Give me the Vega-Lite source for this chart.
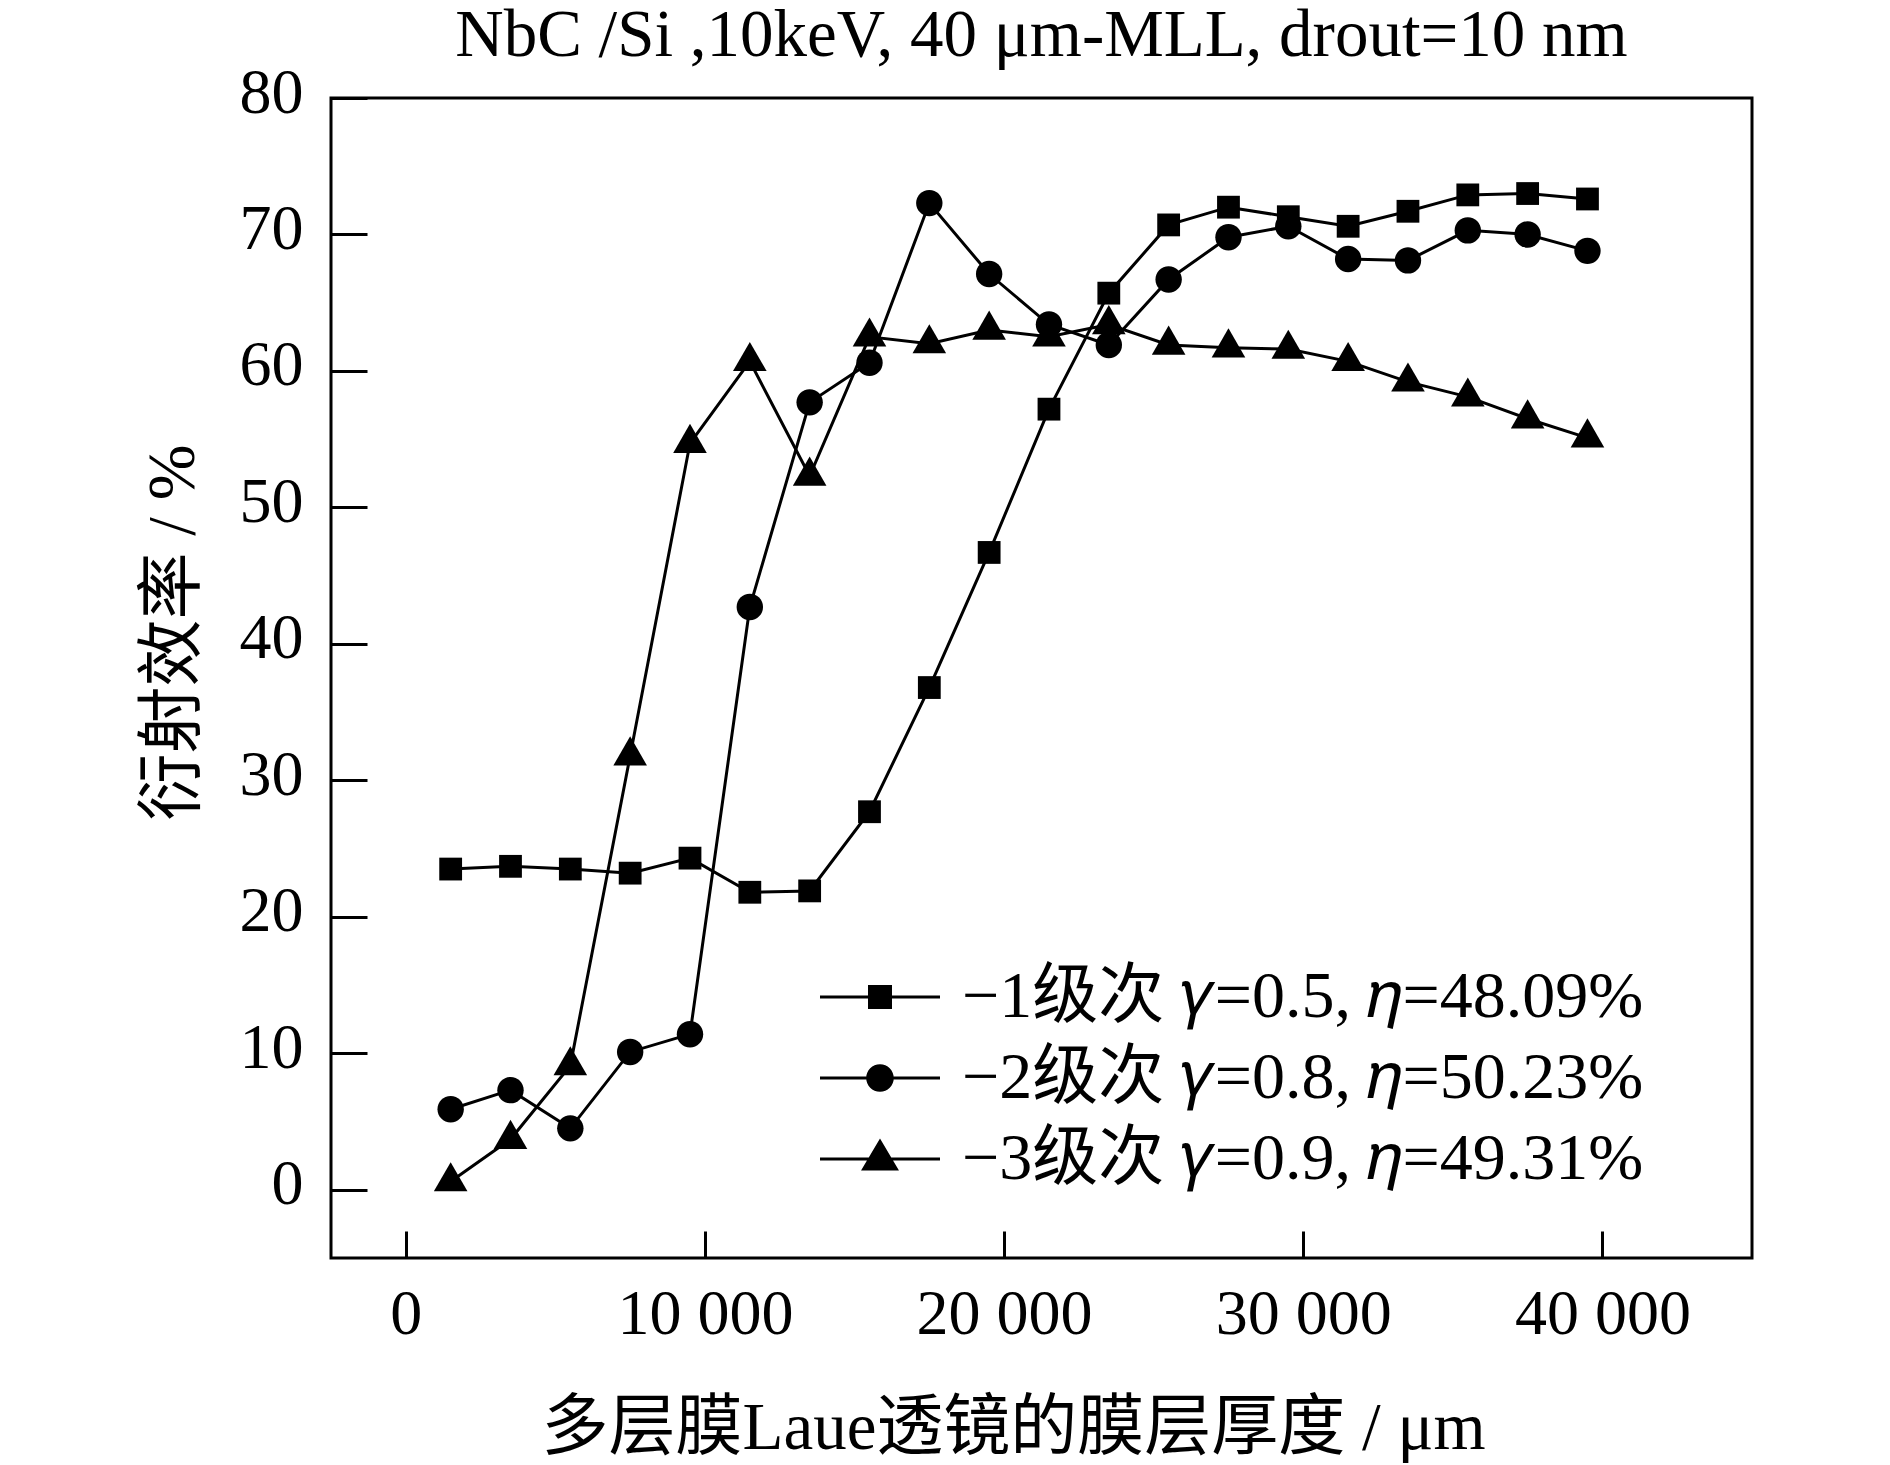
{
  "$schema": "https://vega.github.io/schema/vega-lite/v6.json",
  "description": "Diffraction efficiency of a NbC/Si multilayer Laue lens vs layer thickness, for the -1, -2 and -3 orders.",
  "width": 1421,
  "height": 1160,
  "autosize": {"type": "none"},
  "padding": {"left": 331, "top": 98, "right": 138, "bottom": 207},
  "background": "white",
  "title": {
    "text": "NbC /Si ,10keV, 40 μm-MLL, drout=10 nm",
    "font": "Liberation Serif",
    "fontSize": 67,
    "fontWeight": "normal",
    "color": "black",
    "anchor": "middle",
    "frame": "group",
    "baseline": "alphabetic",
    "offset": 0,
    "dy": 62
  },
  "data": {
    "values": [
      {"x": 1500, "y": 23.5, "s": "−1级次 𝛾=0.5, 𝜂=48.09%"},
      {"x": 3500, "y": 23.7, "s": "−1级次 𝛾=0.5, 𝜂=48.09%"},
      {"x": 5500, "y": 23.5, "s": "−1级次 𝛾=0.5, 𝜂=48.09%"},
      {"x": 7500, "y": 23.2, "s": "−1级次 𝛾=0.5, 𝜂=48.09%"},
      {"x": 9500, "y": 24.3, "s": "−1级次 𝛾=0.5, 𝜂=48.09%"},
      {"x": 11500, "y": 21.8, "s": "−1级次 𝛾=0.5, 𝜂=48.09%"},
      {"x": 13500, "y": 21.9, "s": "−1级次 𝛾=0.5, 𝜂=48.09%"},
      {"x": 15500, "y": 27.7, "s": "−1级次 𝛾=0.5, 𝜂=48.09%"},
      {"x": 17500, "y": 36.8, "s": "−1级次 𝛾=0.5, 𝜂=48.09%"},
      {"x": 19500, "y": 46.7, "s": "−1级次 𝛾=0.5, 𝜂=48.09%"},
      {"x": 21500, "y": 57.2, "s": "−1级次 𝛾=0.5, 𝜂=48.09%"},
      {"x": 23500, "y": 65.7, "s": "−1级次 𝛾=0.5, 𝜂=48.09%"},
      {"x": 25500, "y": 70.7, "s": "−1级次 𝛾=0.5, 𝜂=48.09%"},
      {"x": 27500, "y": 72.0, "s": "−1级次 𝛾=0.5, 𝜂=48.09%"},
      {"x": 29500, "y": 71.3, "s": "−1级次 𝛾=0.5, 𝜂=48.09%"},
      {"x": 31500, "y": 70.6, "s": "−1级次 𝛾=0.5, 𝜂=48.09%"},
      {"x": 33500, "y": 71.7, "s": "−1级次 𝛾=0.5, 𝜂=48.09%"},
      {"x": 35500, "y": 72.9, "s": "−1级次 𝛾=0.5, 𝜂=48.09%"},
      {"x": 37500, "y": 73.0, "s": "−1级次 𝛾=0.5, 𝜂=48.09%"},
      {"x": 39500, "y": 72.6, "s": "−1级次 𝛾=0.5, 𝜂=48.09%"},
      {"x": 1500, "y": 5.9, "s": "−2级次 𝛾=0.8, 𝜂=50.23%"},
      {"x": 3500, "y": 7.3, "s": "−2级次 𝛾=0.8, 𝜂=50.23%"},
      {"x": 5500, "y": 4.5, "s": "−2级次 𝛾=0.8, 𝜂=50.23%"},
      {"x": 7500, "y": 10.1, "s": "−2级次 𝛾=0.8, 𝜂=50.23%"},
      {"x": 9500, "y": 11.4, "s": "−2级次 𝛾=0.8, 𝜂=50.23%"},
      {"x": 11500, "y": 42.7, "s": "−2级次 𝛾=0.8, 𝜂=50.23%"},
      {"x": 13500, "y": 57.7, "s": "−2级次 𝛾=0.8, 𝜂=50.23%"},
      {"x": 15500, "y": 60.6, "s": "−2级次 𝛾=0.8, 𝜂=50.23%"},
      {"x": 17500, "y": 72.3, "s": "−2级次 𝛾=0.8, 𝜂=50.23%"},
      {"x": 19500, "y": 67.1, "s": "−2级次 𝛾=0.8, 𝜂=50.23%"},
      {"x": 21500, "y": 63.4, "s": "−2级次 𝛾=0.8, 𝜂=50.23%"},
      {"x": 23500, "y": 61.9, "s": "−2级次 𝛾=0.8, 𝜂=50.23%"},
      {"x": 25500, "y": 66.7, "s": "−2级次 𝛾=0.8, 𝜂=50.23%"},
      {"x": 27500, "y": 69.8, "s": "−2级次 𝛾=0.8, 𝜂=50.23%"},
      {"x": 29500, "y": 70.6, "s": "−2级次 𝛾=0.8, 𝜂=50.23%"},
      {"x": 31500, "y": 68.2, "s": "−2级次 𝛾=0.8, 𝜂=50.23%"},
      {"x": 33500, "y": 68.1, "s": "−2级次 𝛾=0.8, 𝜂=50.23%"},
      {"x": 35500, "y": 70.3, "s": "−2级次 𝛾=0.8, 𝜂=50.23%"},
      {"x": 37500, "y": 70.0, "s": "−2级次 𝛾=0.8, 𝜂=50.23%"},
      {"x": 39500, "y": 68.8, "s": "−2级次 𝛾=0.8, 𝜂=50.23%"},
      {"x": 1500, "y": 0.6, "s": "−3级次 𝛾=0.9, 𝜂=49.31%"},
      {"x": 3500, "y": 3.7, "s": "−3级次 𝛾=0.9, 𝜂=49.31%"},
      {"x": 5500, "y": 9.1, "s": "−3级次 𝛾=0.9, 𝜂=49.31%"},
      {"x": 7500, "y": 31.8, "s": "−3级次 𝛾=0.9, 𝜂=49.31%"},
      {"x": 9500, "y": 54.7, "s": "−3级次 𝛾=0.9, 𝜂=49.31%"},
      {"x": 11500, "y": 60.7, "s": "−3级次 𝛾=0.9, 𝜂=49.31%"},
      {"x": 13500, "y": 52.3, "s": "−3级次 𝛾=0.9, 𝜂=49.31%"},
      {"x": 15500, "y": 62.5, "s": "−3级次 𝛾=0.9, 𝜂=49.31%"},
      {"x": 17500, "y": 62.0, "s": "−3级次 𝛾=0.9, 𝜂=49.31%"},
      {"x": 19500, "y": 63.0, "s": "−3级次 𝛾=0.9, 𝜂=49.31%"},
      {"x": 21500, "y": 62.5, "s": "−3级次 𝛾=0.9, 𝜂=49.31%"},
      {"x": 23500, "y": 63.4, "s": "−3级次 𝛾=0.9, 𝜂=49.31%"},
      {"x": 25500, "y": 61.9, "s": "−3级次 𝛾=0.9, 𝜂=49.31%"},
      {"x": 27500, "y": 61.7, "s": "−3级次 𝛾=0.9, 𝜂=49.31%"},
      {"x": 29500, "y": 61.6, "s": "−3级次 𝛾=0.9, 𝜂=49.31%"},
      {"x": 31500, "y": 60.7, "s": "−3级次 𝛾=0.9, 𝜂=49.31%"},
      {"x": 33500, "y": 59.2, "s": "−3级次 𝛾=0.9, 𝜂=49.31%"},
      {"x": 35500, "y": 58.1, "s": "−3级次 𝛾=0.9, 𝜂=49.31%"},
      {"x": 37500, "y": 56.5, "s": "−3级次 𝛾=0.9, 𝜂=49.31%"},
      {"x": 39500, "y": 55.1, "s": "−3级次 𝛾=0.9, 𝜂=49.31%"}
    ]
  },
  "encoding": {
    "x": {
      "field": "x",
      "type": "quantitative",
      "scale": {"domain": [-2500, 45000], "nice": false, "zero": false},
      "axis": {
        "title": "多层膜Laue透镜的膜层厚度 / μm",
        "values": [0, 10000, 20000, 30000, 40000],
        "labelExpr": "replace(format(datum.value, ','), ',', ' ')",
        "tickSize": -27,
        "labelPadding": 102,
        "labelBaseline": "alphabetic",
        "titleX": 682,
        "titleY": 190,
        "titleAlign": "center",
        "titleBaseline": "alphabetic"
      }
    },
    "y": {
      "field": "y",
      "type": "quantitative",
      "scale": {"domain": [-5, 80], "nice": false, "zero": false},
      "axis": {
        "title": "衍射效率 / %",
        "values": [0, 10, 20, 30, 40, 50, 60, 70, 80],
        "tickSize": -36,
        "labelPadding": 64,
        "labelAlign": "right",
        "labelBaseline": "alphabetic",
        "labelOffset": 14,
        "titleAngle": 270,
        "titleX": -138,
        "titleY": 534,
        "titleAlign": "center",
        "titleBaseline": "alphabetic"
      }
    }
  },
  "layer": [
    {
      "mark": {"type": "line", "color": "black", "strokeWidth": 3},
      "encoding": {"detail": {"field": "s", "type": "nominal"}}
    },
    {
      "mark": {"type": "point", "filled": true, "color": "black", "opacity": 1, "size": 576, "strokeWidth": 0},
      "encoding": {
        "shape": {
          "field": "s",
          "type": "nominal",
          "scale": {
            "range": [
              "M-0.95,-0.95H0.95V0.95H-0.95Z",
              "M-1.1,0A1.1,1.1,0,1,1,1.1,0A1.1,1.1,0,1,1,-1.1,0Z",
              "M0,-1.62L1.4,0.81L-1.4,0.81Z"
            ]
          },
          "legend": null
        }
      }
    },
    {
      "transform": [{"filter": "datum.x < 0"}],
      "mark": {"type": "point", "filled": true, "color": "black", "opacity": 1},
      "encoding": {
        "shape": {
          "field": "s",
          "type": "nominal",
          "scale": {
            "domain": ["−1级次 𝛾=0.5, 𝜂=48.09%", "−2级次 𝛾=0.8, 𝜂=50.23%", "−3级次 𝛾=0.9, 𝜂=49.31%"],
            "range": [
              "M-5,-0.125H5V0.125H-5ZM-1,-1H1V1H-1Z",
              "M-5,-0.125H5V0.125H-5ZM-1.15,0A1.15,1.15,0,1,1,1.15,0A1.15,1.15,0,1,1,-1.15,0Z",
              "M-5,-0.125H5V0.125H-5ZM0,-1.7L1.58,0.95L-1.58,0.95Z"
            ]
          },
          "legend": {
            "title": null,
            "orient": "none",
            "legendX": 516,
            "legendY": 866,
            "symbolSize": 576,
            "symbolFillColor": "black",
            "symbolOpacity": 1,
            "labelOffset": 49,
            "rowPadding": 15,
            "labelFont": "Liberation Serif, Noto Sans CJK SC",
            "labelFontSize": 66,
            "labelColor": "black",
            "labelLimit": 0
          }
        }
      }
    }
  ],
  "resolve": {"scale": {"shape": "independent"}, "legend": {"shape": "independent"}},
  "config": {
    "view": {"stroke": "black", "strokeWidth": 3},
    "axis": {
      "domain": false,
      "grid": false,
      "ticks": true,
      "tickColor": "black",
      "tickWidth": 3,
      "labelFont": "Liberation Serif",
      "labelFontSize": 64,
      "labelColor": "black",
      "labelFlush": false,
      "labelOverlap": false,
      "titleFont": "Liberation Serif, Noto Sans CJK SC",
      "titleFontSize": 67,
      "titleFontWeight": "normal",
      "titleColor": "black"
    }
  }
}
